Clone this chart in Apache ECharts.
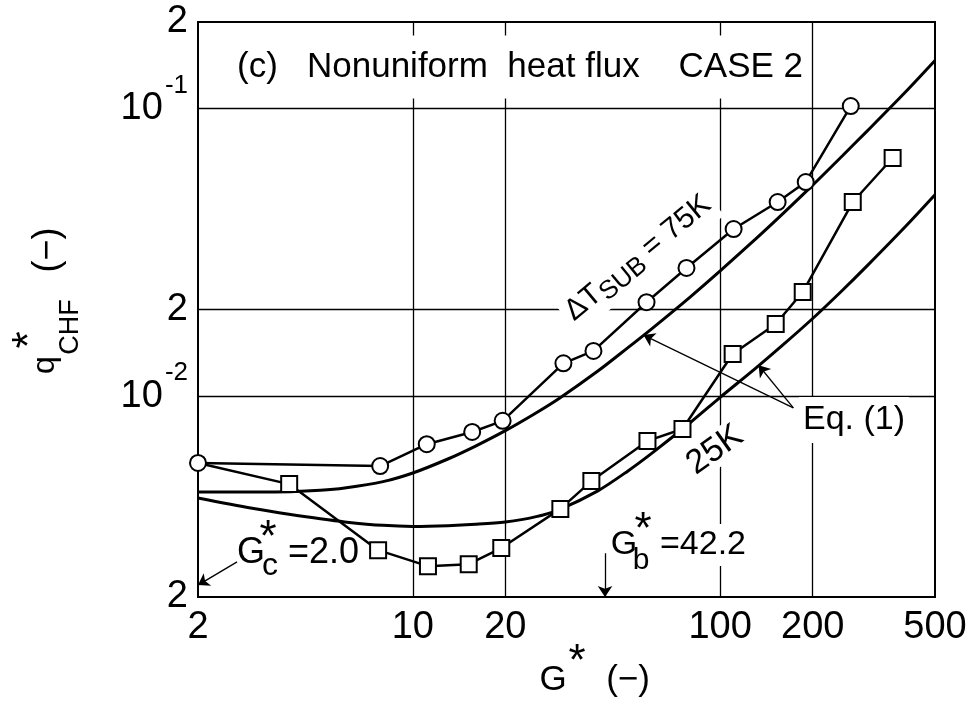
<!DOCTYPE html>
<html>
<head>
<meta charset="utf-8">
<script src="https://cdn.jsdelivr.net/npm/echarts@6/dist/echarts.min.js"></script>
<style>
  html, body { margin: 0; padding: 0; background: #fff; }
  #chart { width: 973px; height: 701px; }
</style>
</head>
<body>
<div id="chart"></div>
<script>
// axis ticks / grid
const X_TICKS = [2, 10, 20, 100, 200, 500];
const Y_TICKS = [0.002, 0.01, 0.02, 0.1, 0.2];
const X_GRID = [10, 20, 100, 200];
const Y_GRID = [0.01, 0.02, 0.1];

// measured points, dT_sub = 75K (circles)
const G_75 = [2, 7.83, 11.1, 15.6, 19.6, 30.9, 38.7, 57.6, 77.7, 110.6, 153.8, 189.8, 266];
const Q_75 = [0.00585, 0.00571, 0.0068, 0.0075, 0.0082, 0.0130, 0.01435, 0.0212, 0.0279, 0.0381, 0.0473, 0.0555, 0.102];

// measured points, dT_sub = 25K (squares), first point shared with 75K
const G_25 = [2, 3.96, 7.71, 11.2, 15.2, 19.4, 30.2, 38.1, 58.0, 75.4, 109.8, 151.6, 185.6, 270, 364];
const Q_25 = [0.00585, 0.00494, 0.00291, 0.00256, 0.0026, 0.00296, 0.00405, 0.00506, 0.00698, 0.00768, 0.0140, 0.0178, 0.023, 0.0473, 0.0673];

const EQ_G = [2, 3, 4, 5, 6, 8, 10, 13, 16, 20, 25, 30, 40, 50, 60, 80, 100, 130, 160, 200, 250, 300, 400, 500];
const EQ75_Q = [0.00464, 0.00464, 0.00465, 0.0047, 0.00479, 0.00504, 0.0054, 0.00604, 0.0067, 0.00758, 0.0087, 0.00983,
  0.01222, 0.01471, 0.01717, 0.02214, 0.02725, 0.03507, 0.04312, 0.05416, 0.06855, 0.0833, 0.1139, 0.1469];
const EQ25_Q = [0.00442, 0.00407, 0.00387, 0.00374, 0.00365, 0.00355, 0.00352, 0.00354, 0.00358, 0.00365, 0.0038, 0.00403,
  0.00468, 0.00548, 0.00633, 0.00809, 0.0099, 0.01246, 0.01506, 0.01861, 0.02334, 0.02831, 0.0388, 0.05015];

// annotation arrows (data coords)
const EQ_LABEL_AT = [173, 0.0091];
const EQ_ARROW_TIPS = [[56.3, 0.0163], [133.4, 0.0128]];
const GC = 2.0, GB = 42.2;
const GC_ARROW_FROM = [2.68, 0.00265], GC_ARROW_TO = [GC, 0.0022];
const GB_ARROW_TOP = 0.00284;

const FONT = "'Liberation Sans', Arial, sans-serif";
const zip = (a, b) => a.map((v, i) => [v, b[i]]);

const chart = echarts.init(document.getElementById('chart'));

function txt(x, y, text, size, extra) {
  return Object.assign({
    type: 'text', x: x, y: y, z: 50,
    style: Object.assign({
      text: text, fontSize: size, fontFamily: FONT, fill: '#000',
      align: 'center', verticalAlign: 'middle'
    }, (extra && extra.style) || {})
  }, extra && extra.rotation !== undefined ? { rotation: extra.rotation } : {});
}

const option = {
  animation: false,
  grid: {
    left: 198, right: 38, top: 22, bottom: 104,
    show: true, borderColor: '#000', borderWidth: 2,
    containLabel: false, outerBoundsMode: 'none'
  },
  xAxis: [
    {
      type: 'value', position: 'bottom',
      min: Math.log10(X_TICKS[0]), max: Math.log10(X_TICKS[X_TICKS.length - 1]),
      axisLine: { show: false }, axisTick: { show: false }, splitLine: { show: false },
      axisLabel: {
        customValues: X_TICKS.map(v => Math.log10(v)),
        formatter: v => String(Math.round(Math.pow(10, v))),
        fontSize: 38, fontFamily: FONT, color: '#000', margin: 12
      }
    },
    { type: 'log', logBase: 10, min: 2, max: 500, show: false, position: 'bottom' }
  ],
  yAxis: [
    {
      type: 'value', position: 'left',
      min: Math.log10(Y_TICKS[0]), max: Math.log10(Y_TICKS[Y_TICKS.length - 1]),
      axisLine: { show: false }, axisTick: { show: false }, splitLine: { show: false },
      axisLabel: {
        customValues: Y_TICKS.map(v => Math.log10(v)),
        formatter: v => {
          const r = Math.round(v);
          if (Math.abs(v - r) < 1e-6) return '{a|10}{s|' + r + '}';
          return '{a|' + Math.round(Math.pow(10, v - Math.floor(v))) + '}';
        },
        margin: 10,
        rich: {
          a: { fontSize: 38, fontFamily: FONT, color: '#000', verticalAlign: 'middle' },
          s: { fontSize: 26, fontFamily: FONT, color: '#000', verticalAlign: 'top', padding: [0, 0, 46, 2] }
        }
      }
    },
    { type: 'log', logBase: 10, min: 0.002, max: 0.2, show: false, position: 'left' }
  ],
  series: [
    {
      name: 'Eq75', type: 'line', xAxisIndex: 1, yAxisIndex: 1,
      data: zip(EQ_G, EQ75_Q), smooth: 0.3,
      showSymbol: false, symbol: 'none',
      lineStyle: { color: '#000', width: 3 },
      markLine: {
        silent: true, z: 1, symbol: 'none', label: { show: false },
        lineStyle: { color: '#000', width: 1.3, type: 'solid' },
        emphasis: { disabled: true },
        data: X_GRID.map(v => ({ xAxis: v })).concat(Y_GRID.map(v => ({ yAxis: v })))
      }
    },
    {
      name: 'Eq25', type: 'line', xAxisIndex: 1, yAxisIndex: 1,
      data: zip(EQ_G, EQ25_Q), smooth: 0.3,
      showSymbol: false, symbol: 'none',
      lineStyle: { color: '#000', width: 3 },
      markLine: {
        silent: true, symbol: ['none', 'arrow'], symbolSize: 11, label: { show: false },
        lineStyle: { color: '#000', width: 1.3, type: 'solid' },
        emphasis: { disabled: true },
        data: EQ_ARROW_TIPS.map(t => [{ coord: EQ_LABEL_AT }, { coord: t }]).concat([
          [{ coord: GC_ARROW_FROM }, { coord: GC_ARROW_TO }],
          [{ coord: [GB, GB_ARROW_TOP] }, { coord: [GB, Y_TICKS[0]] }]
        ])
      }
    },
    {
      name: '75K', type: 'line', xAxisIndex: 1, yAxisIndex: 1,
      data: zip(G_75, Q_75),
      symbol: 'circle', symbolSize: 16,
      itemStyle: { color: '#fff', borderColor: '#000', borderWidth: 2 },
      lineStyle: { color: '#000', width: 2.5 }, z: 3
    },
    {
      name: '25K', type: 'line', xAxisIndex: 1, yAxisIndex: 1,
      data: zip(G_25, Q_25).map((p, i) => i === 0 ? { value: p, symbol: 'none' } : p),
      symbol: 'rect', symbolSize: 16,
      itemStyle: { color: '#fff', borderColor: '#000', borderWidth: 2 },
      lineStyle: { color: '#000', width: 2.5 }, z: 3
    }
  ],
  graphic: [
    // title
    txt(231, 67, '(c)   Nonuniform  heat flux    CASE 2', 35,
      { style: { align: 'left', backgroundColor: '#fff', padding: [14, 6] } }),
    // curve labels
    {
      type: 'text', x: 638, y: 258, rotation: 0.69, z: 50,
      style: {
        text: '{m|ΔT}{s|SUB}{m| = 75K}', align: 'center', verticalAlign: 'middle',
        backgroundColor: '#fff', padding: [2, 4],
        rich: {
          m: { fontSize: 30, fontFamily: FONT, fill: '#000', verticalAlign: 'middle' },
          s: { fontSize: 26, fontFamily: FONT, fill: '#000', verticalAlign: 'bottom', padding: [14, 0, 0, 0] }
        }
      }
    },
    txt(715, 450, '25K', 34, { rotation: 0.62, style: { backgroundColor: '#fff', padding: [0, 2] } }),
    txt(799, 420, 'Eq. (1)', 34, { style: { align: 'left', backgroundColor: '#fff', padding: [6, 4] } }),
    // G*c = 2.0
    txt(251, 553, 'G', 36),
    txt(268, 539, '*', 44),
    txt(270, 566, 'c', 32),
    txt(288, 553, '=2.0', 36, { style: { align: 'left' } }),
    // G*b = 42.2
    txt(624, 545, 'G', 34),
    txt(643, 531, '*', 44),
    txt(641, 561, 'b', 30),
    txt(660, 545, '=42.2', 34, { style: { align: 'left', backgroundColor: '#fff', padding: [4, 0] } }),
    // x axis title
    txt(553, 680, 'G', 35),
    txt(577, 663, '*', 44),
    txt(628, 680, '(\u2212)', 35),
    // y axis title (rotated)
    txt(45, 365, 'q', 32, { rotation: Math.PI / 2 }),
    txt(31, 340, '*', 44, { rotation: Math.PI / 2 }),
    txt(71, 327, 'CHF', 27, { rotation: Math.PI / 2 }),
    txt(48, 250, '(\u2212)', 36, { rotation: Math.PI / 2 })
  ]
};

chart.setOption(option);
</script>
</body>
</html>
